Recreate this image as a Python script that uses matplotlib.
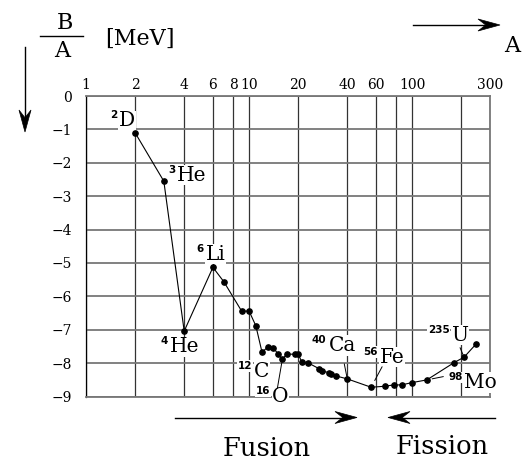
import matplotlib.pyplot as plt
from matplotlib.patches import Polygon
from matplotlib.lines import Line2D

plt.rcParams['font.family'] = 'DejaVu Serif'

W, H = 522, 462

# mass number A and binding energy per nucleon B/A [MeV]
mass_number = [2, 3, 4, 6, 7, 9, 10, 11, 12, 13, 14, 15, 16, 17, 19, 20, 21, 23,
               27, 28, 31, 32, 34, 40, 56, 68, 77, 86, 100, 123, 181, 208, 246]
binding = [-1.10, -2.55, -7.04, -5.13, -5.56, -6.44, -6.44, -6.88, -7.67, -7.52,
           -7.53, -7.71, -7.88, -7.73, -7.73, -7.73, -7.95, -7.99, -8.17, -8.24,
           -8.28, -8.32, -8.38, -8.47, -8.72, -8.69, -8.65, -8.65, -8.58, -8.50,
           -7.98, -7.82, -7.43]

# labelled nuclides: (mass label, symbol, A, B/A, symbol offset px)
nuclides = [
    ('2', 'D', 2, -1.10, (-8, 12)),
    ('3', 'He', 3, -2.55, (28, 6)),
    ('4', 'He', 4, -7.04, (0, -15.5)),
    ('6', 'Li', 6, -5.13, (3, 13)),
    ('12', 'C', 12, -7.67, (0, -19)),
    ('16', 'O', 16, -7.88, (-2, -37)),
    ('40', 'Ca', 40, -8.47, (-5, 33.5)),
    ('56', 'Fe', 56, -8.72, (21, 30)),
    ('235', 'U', 208, -7.82, (-4, 22)),
    ('98', 'Mo', 123, -8.50, (54, -2.7)),
]

# leader lines: (A, B/A, start offset px, gap at the point in pt)
leaders = [
    (16, -7.88, (-5, -29), 2.5),
    (40, -8.47, (-3, 15), 1.0),
    (56, -8.72, (11, 20.5), 5.5),
    (208, -7.82, (-4, 9.5), 1.8),
    (123, -8.50, (16.5, 3.3), 3.9),
]

xticks = [1, 2, 4, 6, 8, 10, 20, 40, 60, 100, 300]
xminor = [80, 200]
yticks = [0, -1, -2, -3, -4, -5, -6, -7, -8, -9]


def fx(x):
    return x / W


def fy(y):
    return 1 - y / H


def stealth(fig, x0, y0, x1, y1, L=22, Wd=6):
    # shaft plus a concave arrow head, all in pixel coords
    dx, dy = x1 - x0, y1 - y0
    n = (dx ** 2 + dy ** 2) ** 0.5
    ux, uy = dx / n, dy / n
    px, py = -uy, ux
    bx, by = x1 - ux * L, y1 - uy * L
    nx, ny = x1 - ux * L * 0.65, y1 - uy * L * 0.65
    fig.add_artist(Line2D([fx(x0), fx(nx)], [fy(y0), fy(ny)], color='black', lw=1.0))
    pts = [(x1, y1), (bx + px * Wd, by + py * Wd), (nx, ny), (bx - px * Wd, by - py * Wd)]
    fig.add_artist(Polygon([(fx(a), fy(b)) for a, b in pts], closed=True,
                           fc='black', ec='black', lw=0.5))


fig = plt.figure(figsize=(5.22, 4.62), dpi=100)
ax = fig.add_axes([fx(86), fy(396.6), fx(490 - 86), (396.6 - 96) / H])
ax.set_xscale('log')
ax.set_xlim(1, 300)
ax.set_ylim(-9, 0)

ax.set_xticks(xticks)
ax.set_xticklabels([str(t) for t in xticks])
ax.set_xticks(xminor, minor=True)
ax.set_xticklabels([], minor=True)
ax.set_yticks(yticks)
ax.set_yticklabels(['0'] + ['\u2212%d' % -t for t in yticks[1:]])
ax.xaxis.tick_top()
ax.tick_params(axis='both', which='both', length=0, labelsize=10)
ax.tick_params(axis='x', pad=3)
ax.tick_params(axis='y', pad=10)

ax.grid(axis='x', which='both', color='#333333', lw=0.9)
ax.grid(axis='y', color='#777777', lw=1.3)
ax.set_axisbelow(True)
for s in ['top', 'right', 'bottom']:
    ax.spines[s].set_color('#777777')
    ax.spines[s].set_linewidth(1.3)
ax.spines['left'].set_color('black')
ax.spines['left'].set_linewidth(0.9)

ax.plot(mass_number, binding, color='black', lw=0.8, marker='o', markersize=3.8, zorder=5)

for sup, sym, a, b, off in nuclides:
    ann = ax.annotate(sym, xy=(a, b), xytext=off, textcoords='offset pixels',
                      ha='center', va='center', fontsize=14.5, zorder=4,
                      bbox=dict(fc='white', ec='none', pad=0.5),
                      annotation_clip=False)
    ax.annotate(sup, xy=(0, 0.78), xycoords=ann, xytext=(-2, 0), textcoords='offset pixels',
                ha='right', va='center', fontsize=7.5, fontweight='bold',
                family='DejaVu Sans', zorder=4,
                bbox=dict(fc='white', ec='none', pad=0.5), annotation_clip=False)

for a, b, start, gap in leaders:
    ax.annotate('', xy=(a, b), xytext=start, textcoords='offset pixels',
                arrowprops=dict(arrowstyle='-', lw=0.7, color='black',
                                shrinkA=0, shrinkB=gap),
                zorder=4, annotation_clip=False)

# y-axis title: B/A [MeV]
fig.text(fx(65), fy(23), 'B', ha='center', va='center', fontsize=16)
fig.text(fx(62), fy(51), 'A', ha='center', va='center', fontsize=16)
fig.add_artist(Line2D([fx(40), fx(83)], [fy(35.5), fy(35.5)], color='black', lw=1.0))
fig.text(fx(140), fy(39), '[MeV]', ha='center', va='center', fontsize=16)

stealth(fig, 25, 47, 25, 132)
stealth(fig, 413, 25, 500, 25)
fig.text(fx(512), fy(46), 'A', ha='center', va='center', fontsize=16)

stealth(fig, 175, 417.5, 357, 417.5)
stealth(fig, 495, 417.5, 388, 417.5)
fig.text(fx(267), fy(448), 'Fusion', ha='center', va='center', fontsize=18.5)
fig.text(fx(442), fy(446), 'Fission', ha='center', va='center', fontsize=18.5)

fig.savefig('out.png', dpi=100)
